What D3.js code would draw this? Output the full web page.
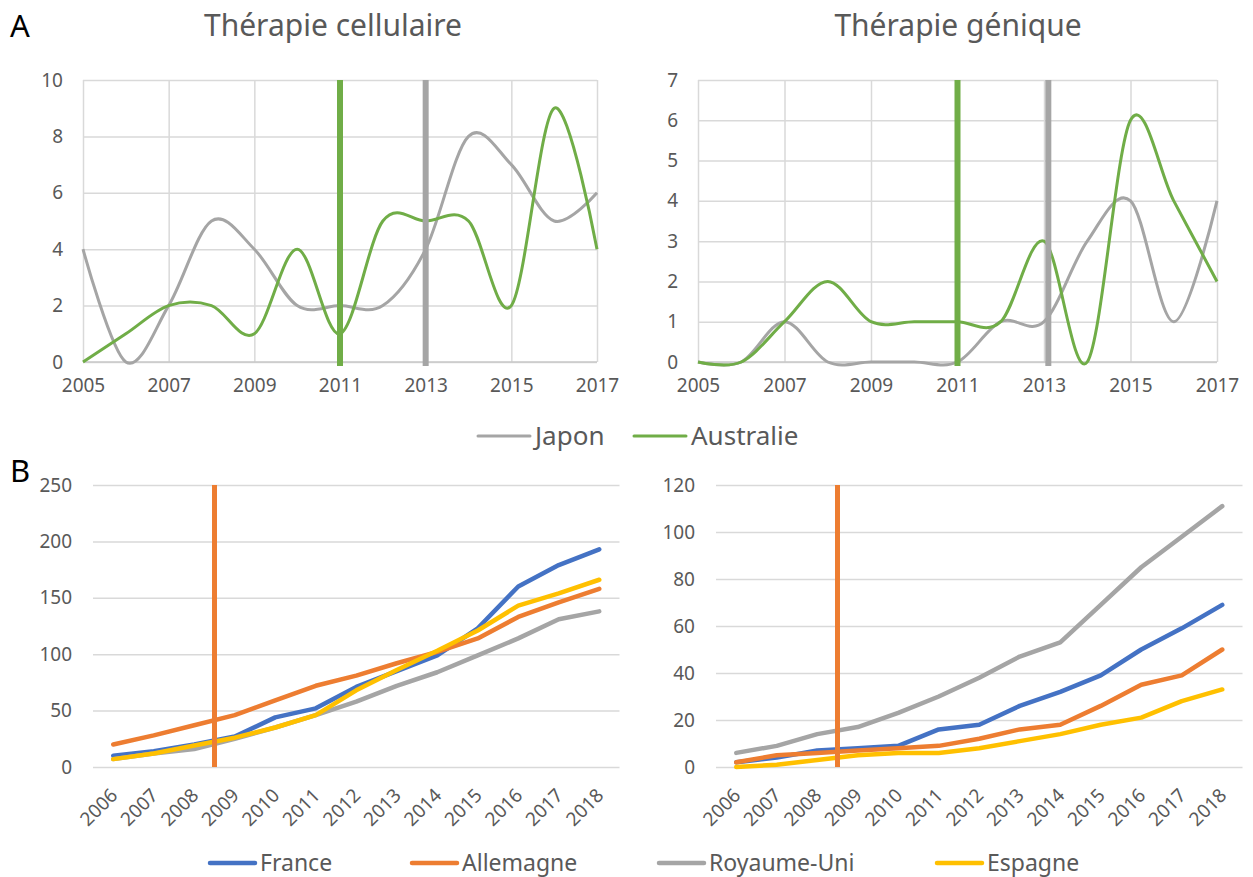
<!DOCTYPE html>
<html>
<head>
<meta charset="utf-8">
<script src="https://cdn.jsdelivr.net/npm/d3@7"></script>
<style>
  body { margin: 0; background: #fff; }
  text { font-family: "Noto Sans", sans-serif; fill: #595959; }
</style>
</head>
<body>
<div id="chart"></div>
<script>
// --- data ---
const topYears = [2005, 2006, 2007, 2008, 2009, 2010, 2011, 2012, 2013, 2014, 2015, 2016, 2017];
const celluJapon = [4, 0, 2, 5, 4, 2, 2, 2, 4, 8, 7, 5, 6];
const celluAustralie = [0, 1, 2, 2, 1, 4, 1, 5, 5, 5, 2, 9, 4];
const geneJapon = [0, 0, 1, 0, 0, 0, 0, 1, 1, 3, 4, 1, 4];
const geneAustralie = [0, 0, 1, 2, 1, 1, 1, 1, 3, 0, 6, 4, 2];
// years of the vertical markers: Australie, Japon
const celluMarkers = [2011, 2013];
const geneMarkers = [2011, 2013.1];
const topSeries = ["Japon", "Australie"];

const bottomYears = ["2006", "2007", "2008", "2009", "2010", "2011", "2012", "2013", "2014", "2015", "2016", "2017", "2018"];
const bottomSeries = ["France", "Allemagne", "Royaume-Uni", "Espagne"];
const leftFrance = [10, 14, 20, 27, 44, 52, 71, 85, 99, 123, 160, 179, 193];
const leftAllemagne = [20, 28, 37, 46, 59, 72, 81, 92, 102, 114, 133, 146, 158];
const leftRoyaumeUni = [7, 12, 16, 25, 35, 46, 58, 72, 84, 99, 114, 131, 138];
const leftEspagne = [7, 12, 19, 26, 35, 46, 68, 86, 103, 121, 143, 154, 166];
const rightFrance = [2, 4, 7, 8, 9, 16, 18, 26, 32, 39, 50, 59, 69];
const rightAllemagne = [2, 5, 6, 7, 8, 9, 12, 16, 18, 26, 35, 39, 50];
const rightRoyaumeUni = [6, 9, 14, 17, 23, 30, 38, 47, 53, 69, 85, 98, 111];
const rightEspagne = [0, 1, 3, 5, 6, 6, 8, 11, 14, 18, 21, 28, 33];
// marker sits between these two categories
const bottomMarker = ["2008", "2009"];

const colors = {
  "Japon": "#a5a5a5", "Australie": "#70ad47",
  "France": "#4472c4", "Allemagne": "#ed7d31", "Royaume-Uni": "#a5a5a5", "Espagne": "#ffc000"
};
const grid = "#d9d9d9";

const svg = d3.select("#chart").append("svg")
  .attr("width", 1253).attr("height", 877);

function styleAxis(a, size) {
  a.select(".domain").remove();
  a.selectAll("line").attr("stroke", grid).attr("stroke-width", 1.5);
  a.selectAll("text").attr("font-size", size).attr("fill", "#595959")
    .style("font-family", "'Noto Sans', sans-serif");
}

function drawTop(cfg) {
  const top = 80, bottom = 362;
  const x = d3.scaleLinear().domain([2005, 2017]).range([cfg.left, cfg.right]);
  const y = d3.scaleLinear().domain([0, cfg.max]).range([bottom, top]);
  const g = svg.append("g");

  g.append("g").attr("transform", `translate(${cfg.left},0)`)
    .call(d3.axisLeft(y).tickValues(d3.range(0, cfg.max + 1, cfg.step))
      .tickFormat(d3.format("d"))
      .tickSize(-(cfg.right - cfg.left)).tickPadding(20))
    .call(a => styleAxis(a, 19));

  g.append("g").attr("transform", `translate(0,${bottom})`)
    .call(d3.axisBottom(x).tickValues(d3.range(2005, 2018, 2)).tickFormat(d3.format("d"))
      .tickSize(-(bottom - top)).tickPadding(17))
    .call(a => styleAxis(a, 19));

  g.append("line").attr("x1", cfg.left).attr("x2", cfg.right)
    .attr("y1", bottom).attr("y2", bottom).attr("stroke", "#c8c8c8").attr("stroke-width", 1.5);

  const line = d3.line()
    .x((d, i) => x(topYears[i]))
    .y(d => y(d))
    .curve(d3.curveCatmullRom.alpha(0));

  cfg.series.forEach((vals, i) => {
    g.append("path").datum(vals)
      .attr("d", line)
      .attr("fill", "none")
      .attr("stroke", colors[topSeries[i]])
      .attr("stroke-width", 3);
  });

  // markers: Australie (green), Japon (grey)
  [1, 0].forEach((si, k) => {
    const yr = cfg.markers[k];
    g.append("line")
      .attr("x1", x(yr)).attr("x2", x(yr))
      .attr("y1", top).attr("y2", bottom + 4)
      .attr("stroke", colors[topSeries[si]]).attr("stroke-width", 6);
  });

  g.append("text").attr("x", cfg.titleX).attr("y", 36)
    .attr("text-anchor", "middle").attr("font-size", 30)
    .text(cfg.title);
}

function drawBottom(cfg) {
  const top = 485, bottom = 767;
  const x = d3.scaleBand().domain(bottomYears).range([cfg.left, cfg.right]);
  const y = d3.scaleLinear().domain([0, cfg.max]).range([bottom, top]);
  const g = svg.append("g");

  g.append("g").attr("transform", `translate(${cfg.left},0)`)
    .call(d3.axisLeft(y).tickValues(d3.range(0, cfg.max + 1, cfg.step))
      .tickSize(-(cfg.right - cfg.left)).tickPadding(21))
    .call(a => styleAxis(a, 19));

  g.append("g").attr("transform", `translate(0,${bottom})`)
    .call(d3.axisBottom(x).tickSize(0))
    .call(a => styleAxis(a, 19))
    .call(a => a.selectAll("text")
      .attr("x", 0).attr("y", 0).attr("dy", "0.71em")
      .attr("text-anchor", "end")
      .attr("transform", "translate(-4,20) rotate(-45)"));

  const cx = d => x(d) + x.bandwidth() / 2;
  const line = d3.line()
    .x((d, i) => cx(bottomYears[i]))
    .y(d => y(d));

  cfg.series.forEach((vals, i) => {
    g.append("path").datum(vals)
      .attr("d", line)
      .attr("fill", "none")
      .attr("stroke", colors[bottomSeries[i]])
      .attr("stroke-width", 4.5)
      .attr("stroke-linecap", "round")
      .attr("stroke-linejoin", "round");
  });

  const mx = (cx(bottomMarker[0]) + cx(bottomMarker[1])) / 2;
  g.append("line")
    .attr("x1", mx).attr("x2", mx)
    .attr("y1", top).attr("y2", bottom)
    .attr("stroke", colors["Allemagne"]).attr("stroke-width", 5);
}

drawTop({ left: 83, right: 597, max: 10, step: 2, series: [celluJapon, celluAustralie],
  markers: celluMarkers, title: "Thérapie cellulaire", titleX: 333 });
drawTop({ left: 698, right: 1217, max: 7, step: 1, series: [geneJapon, geneAustralie],
  markers: geneMarkers, title: "Thérapie génique", titleX: 958 });

drawBottom({ left: 93, right: 619.5, max: 250, step: 50,
  series: [leftFrance, leftAllemagne, leftRoyaumeUni, leftEspagne] });
drawBottom({ left: 716, right: 1242.5, max: 120, step: 20,
  series: [rightFrance, rightAllemagne, rightRoyaumeUni, rightEspagne] });

// panel letters
svg.append("text").attr("x", 10).attr("y", 37).attr("font-size", 31)
  .style("fill", "#000").text("A");
svg.append("text").attr("x", 10).attr("y", 482).attr("font-size", 31)
  .style("fill", "#000").text("B");

// legends
function legend(names, starts, yLine, yText, len, width, size) {
  names.forEach((n, i) => {
    const lg = svg.append("g");
    lg.append("line").attr("x1", starts[i]).attr("x2", starts[i] + len)
      .attr("y1", yLine).attr("y2", yLine)
      .attr("stroke", colors[n]).attr("stroke-width", width)
      .attr("stroke-linecap", "round");
    lg.append("text").attr("x", starts[i] + len + 5).attr("y", yText)
      .attr("font-size", size).text(n);
  });
}
legend(topSeries, [478, 634], 436, 445, 52, 3, 26);
legend(bottomSeries, [210, 412, 659, 937], 863, 871, 45, 4.5, 23);
</script>
</body>
</html>
